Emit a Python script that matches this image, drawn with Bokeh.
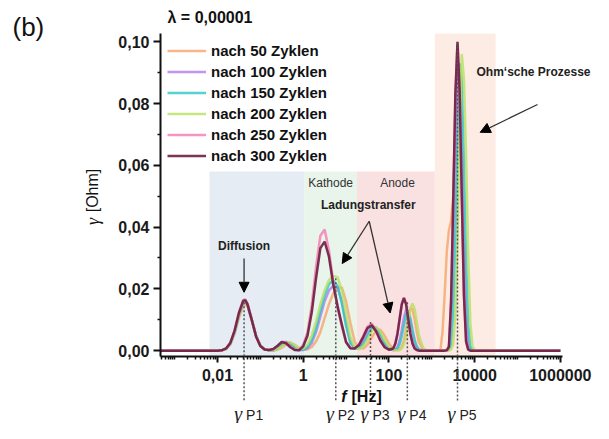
import math
from bokeh.plotting import figure
from bokeh.models import (FixedTicker, BoxAnnotation, Label, Arrow, NormalHead,
                          Legend, LegendItem, GridBox, Column, Range1d)
from bokeh.embed import file_html
from bokeh.resources import INLINE

# ---------------- data ----------------
# shared frequency grid, as log10(f / Hz)
log_f = [-3.33, -2.0, -1.9, -1.8, -1.7, -1.6, -1.5, -1.4, -1.35, -1.3,
         -1.2, -1.1, -1.0, -0.9, -0.8, -0.7, -0.6, -0.5, -0.4, -0.3,
         -0.2, -0.1, 0.0, 0.1, 0.2, 0.3, 0.4, 0.5, 0.6, 0.7,
         0.8, 0.9, 1.0, 1.1, 1.2, 1.3, 1.4, 1.5, 1.6, 1.7,
         1.8, 1.9, 2.0, 2.1, 2.15, 2.2, 2.25, 2.3, 2.35, 2.4,
         2.45, 2.5, 2.55, 2.6, 2.65, 2.7, 2.8, 2.9, 3.0, 3.1,
         3.2, 3.25, 3.3, 3.35, 3.4, 3.45, 3.5, 3.55, 3.6, 3.65,
         3.7, 3.75, 3.8, 3.85, 3.9, 3.95, 4.0, 6.0]

gamma_50 = [0, 0, 0.0001, 0.0005, 0.0020, 0.0055, 0.0106, 0.0145, 0.0150, 0.0143,
            0.0098, 0.0047, 0.0016, 0.0004, 0.0001, 0, 0.0003, 0.0009, 0.0019, 0.0025,
            0.0019, 0.0009, 0.0004, 0.0004, 0.0012, 0.0030, 0.0060, 0.0105, 0.0150, 0.0185,
            0.0203, 0.0205, 0.0160, 0.0090, 0.0030, 0.0008, 0.0007, 0.0019, 0.0042, 0.0065,
            0.0068, 0.0048, 0.0023, 0.0007, 0.0004, 0.0003, 0.0005, 0.0012, 0.0033, 0.0068,
            0.0110, 0.0137, 0.0134, 0.0102, 0.0060, 0.0028, 0.0003, 0, 0, 0,
            0, 0.006, 0.018, 0.032, 0.039, 0.042, 0.050, 0.070, 0.088, 0.090,
            0.065, 0.030, 0.008, 0.001, 0, 0, 0, 0]

gamma_100 = [0, 0, 0.0001, 0.0006, 0.0023, 0.0060, 0.0115, 0.0155, 0.0158, 0.0149,
             0.0100, 0.0047, 0.0016, 0.0004, 0.0001, 0.0001, 0.0007, 0.0019, 0.0027, 0.0019,
             0.0007, 0.0001, 0.0002, 0.0008, 0.0025, 0.0060, 0.0110, 0.0160, 0.0195, 0.0210,
             0.0205, 0.0160, 0.0090, 0.0030, 0.0009, 0.0010, 0.0028, 0.0056, 0.0077, 0.0071,
             0.0044, 0.0019, 0.0005, 0.0002, 0.0004, 0.0012, 0.0032, 0.0066, 0.0106, 0.0132,
             0.0129, 0.0098, 0.0058, 0.0027, 0.0010, 0.0003, 0, 0, 0, 0,
             0, 0, 0, 0.0002, 0.0015, 0.0087, 0.030, 0.062, 0.090, 0.093,
             0.068, 0.036, 0.0116, 0.0019, 0.0002, 0, 0, 0]

gamma_150 = [0, 0, 0.0001, 0.0006, 0.0023, 0.0060, 0.0115, 0.0155, 0.0158, 0.0149,
             0.0100, 0.0047, 0.0016, 0.0004, 0.0001, 0.0001, 0.0007, 0.0018, 0.0028, 0.0023,
             0.0011, 0.0003, 0.0003, 0.0012, 0.0035, 0.0075, 0.0130, 0.0180, 0.0215, 0.0227,
             0.0210, 0.0155, 0.0080, 0.0025, 0.0006, 0.0007, 0.0021, 0.0047, 0.0072, 0.0075,
             0.0053, 0.0025, 0.0008, 0.0002, 0.0002, 0.0007, 0.0021, 0.0047, 0.0083, 0.0115,
             0.0124, 0.0104, 0.0068, 0.0035, 0.0014, 0.0004, 0, 0, 0, 0,
             0, 0, 0, 0, 0.0003, 0.0019, 0.0115, 0.036, 0.067, 0.093,
             0.088, 0.061, 0.030, 0.0086, 0.0014, 0.0002, 0, 0]

gamma_200 = [0, 0, 0.0001, 0.0006, 0.0023, 0.0061, 0.0117, 0.0157, 0.0160, 0.0151,
             0.0101, 0.0048, 0.0016, 0.0004, 0.0001, 0.0001, 0.0004, 0.0013, 0.0025, 0.0027,
             0.0018, 0.0007, 0.0007, 0.0020, 0.0050, 0.0095, 0.0150, 0.0195, 0.0228, 0.0242,
             0.0238, 0.0195, 0.0120, 0.0045, 0.0011, 0.0005, 0.0013, 0.0035, 0.0063, 0.0076,
             0.0063, 0.0035, 0.0013, 0.0003, 0.0001, 0, 0.0002, 0.0007, 0.0021, 0.0050,
             0.0093, 0.0135, 0.0153, 0.0135, 0.0093, 0.0050, 0.0007, 0, 0, 0,
             0, 0, 0, 0, 0, 0.0003, 0.0020, 0.0118, 0.0365, 0.069,
             0.096, 0.088, 0.063, 0.031, 0.0089, 0.0015, 0.0002, 0]

gamma_250 = [0, 0, 0.0001, 0.0007, 0.0026, 0.0066, 0.0124, 0.0164, 0.0166, 0.0153,
             0.0101, 0.0047, 0.0015, 0.0004, 0.0002, 0.0004, 0.0014, 0.0028, 0.0028, 0.0014,
             0.0004, 0.0002, 0.0018, 0.0060, 0.0148, 0.0272, 0.0372, 0.0392, 0.0325, 0.0225,
             0.0140, 0.0078, 0.0026, 0.0008, 0.0007, 0.0020, 0.0047, 0.0078, 0.0087, 0.0066,
             0.0034, 0.0012, 0.0003, 0.0007, 0.0023, 0.0056, 0.0104, 0.0152, 0.0172, 0.0152,
             0.0104, 0.0056, 0.0023, 0.0007, 0.0002, 0, 0, 0, 0, 0,
             0, 0, 0, 0.0001, 0.0012, 0.016, 0.048, 0.082, 0.099, 0.084,
             0.050, 0.018, 0.003, 0.0003, 0, 0, 0, 0]

gamma_300 = [0, 0, 0.0001, 0.0007, 0.0025, 0.0065, 0.0122, 0.0161, 0.0163, 0.0150,
             0.0099, 0.0046, 0.0015, 0.0004, 0.0002, 0.0005, 0.0016, 0.0028, 0.0024, 0.0011,
             0.0002, 0.0001, 0.0014, 0.0048, 0.0125, 0.0235, 0.0332, 0.0353, 0.0305, 0.0215,
             0.0145, 0.0085, 0.0028, 0.0008, 0.0007, 0.0018, 0.0044, 0.0073, 0.0082, 0.0063,
             0.0032, 0.0011, 0.0003, 0.0007, 0.0023, 0.0055, 0.0103, 0.0150, 0.0170, 0.0150,
             0.0103, 0.0055, 0.0023, 0.0007, 0.0002, 0, 0, 0, 0, 0,
             0, 0, 0, 0.0001, 0.0012, 0.016, 0.048, 0.083, 0.100, 0.084,
             0.050, 0.018, 0.003, 0.0003, 0, 0, 0, 0]

series_labels = ["nach 50 Zyklen", "nach 100 Zyklen", "nach 150 Zyklen",
                 "nach 200 Zyklen", "nach 250 Zyklen", "nach 300 Zyklen"]
series_values = [gamma_50, gamma_100, gamma_150, gamma_200, gamma_250, gamma_300]
series_colors = ["#F5A56A", "#B27AEE", "#2CC7C4", "#B8E062", "#F27BB0", "#6E1D42"]

# characteristic peaks gamma_P1..P5 (log10 f) and the height of their marker lines
peak_names = ["P1", "P2", "P3", "P4", "P5"]
peak_log_f = [-1.38, 0.76, 1.57, 2.43, 3.60]
peak_top = [0.0157, 0.0234, 0.0093, 0.0157, 0.0998]

# process regions (Hz) and their upper edge (Ohm); None = to the top
region_names = ["Diffusion", "Kathode", "Anode", "Ohm"]
region_left = [0.0065, 1.055, 18.0, 1175.0]
region_right = [1.055, 18.0, 1175.0, 30800.0]
region_top = [0.058, 0.058, 0.058, None]
region_colors = ["#E5ECF3", "#E9F4EA", "#F9E0E1", "#FDECE3"]

x_ticks = [0.01, 1, 100, 10000, 1000000]
x_tick_labels = ["0,01", "1", "100", "10000", "1000000"]
y_ticks = [0.0, 0.02, 0.04, 0.06, 0.08, 0.10]
y_tick_labels = ["0,00", "0,02", "0,04", "0,06", "0,08", "0,10"]

# ---------------- layout constants ----------------
FONT = "Liberation Sans"
W, H = 593, 423
BL, BR, BT, BB = 160, 31, 33, 67          # borders around the plot frame
LX0, LX1 = -3.33, 6.05                     # log10 range of the frame
Y0, Y1 = -0.0019, 0.1027                   # y range of the frame
ppd = (W - BL - BR) / (LX1 - LX0)          # pixels per decade
ppu = (H - BT - BB) / (Y1 - Y0)            # pixels per Ohm

def xs(px):   # canvas pixel column -> frequency (for placing annotations)
    return 10 ** (LX0 + (px - BL) / ppd)

def ys(py):   # canvas pixel row -> gamma value (for placing annotations)
    return Y1 - (py - BT) / ppu

freq = [10 ** v for v in log_f]

# ---------------- main figure ----------------
p = figure(width=W, height=H, x_axis_type="log",
           x_range=Range1d(10 ** LX0, 10 ** LX1), y_range=Range1d(Y0, Y1),
           output_backend="svg", toolbar_location=None,
           min_border_left=BL, min_border_right=BR,
           min_border_top=BT, min_border_bottom=BB)
p.outline_line_color = None
p.xgrid.visible = False
p.ygrid.visible = False
p.background_fill_color = "white"
p.border_fill_color = "white"

for l, r, t, c in zip(region_left, region_right, region_top, region_colors):
    kw = dict(left=l, right=r, fill_color=c, fill_alpha=1.0, line_color=None, level="underlay")
    if t is not None:
        kw["top"] = t
    p.add_layout(BoxAnnotation(**kw))

items = []
for lab, vals, col in zip(series_labels, series_values, series_colors):
    alpha = 0.9 if lab.endswith("300 Zyklen") else 0.8
    r = p.line(freq, vals, line_color=col, line_width=2.5, line_alpha=alpha)
    items.append(LegendItem(label=lab, renderers=[r]))

legend = Legend(items=items, location="top_left", margin=7, padding=0,
                spacing=0, glyph_width=39, glyph_height=21, label_height=21,
                label_standoff=5, label_text_font=FONT, label_text_font_style="bold",
                label_text_font_size="15px", label_text_color="#111111",
                background_fill_alpha=0, border_line_color=None)
p.add_layout(legend)

ax = p.xaxis[0]
ax.ticker = FixedTicker(ticks=x_ticks,
                        minor_ticks=[k * 10 ** d for d in range(-4, 7) for k in range(2, 10)]
                        + [10 ** d for d in (-3, -1, 1, 3, 5)])
ax.major_label_overrides = {t: s for t, s in zip(x_ticks, x_tick_labels)}
ay = p.yaxis[0]
ay.ticker = FixedTicker(ticks=y_ticks, minor_ticks=[0.01, 0.03, 0.05, 0.07, 0.09])
ay.major_label_overrides = {t: s for t, s in zip(y_ticks, y_tick_labels)}
for a, tout, soff in ((ax, 6, 6), (ay, 7, 4)):
    a.axis_line_width = 2
    a.axis_line_color = "#111111"
    a.major_tick_line_width = 2
    a.major_tick_line_color = "#111111"
    a.minor_tick_line_color = "#111111"
    a.minor_tick_line_width = 1.5
    a.major_tick_out = tout
    a.major_tick_in = 0
    a.minor_tick_out = 3
    a.minor_tick_in = 0
    a.major_label_text_font = FONT
    a.major_label_text_font_style = "bold"
    a.major_label_text_font_size = "16px"
    a.major_label_text_color = "#1a1a1a"
    a.major_label_standoff = soff

def label(fig, x, y, s, size="12px", style="bold", align="center", color="#222222",
          font=FONT, angle=0.0, baseline="middle", x_offset=0):
    fig.add_layout(Label(x=x, y=y, text=s, text_font=font, text_font_style=style,
                         text_font_size=size, text_align=align, text_baseline=baseline,
                         text_color=color, angle=angle, x_offset=x_offset))

label(p, 10 ** -1.38, 0.0339, "Diffusion")
label(p, 10 ** 1.52, 0.0470, "Ladungstransfer")
label(p, 10 ** 0.64, 0.0544, "Kathode", style="normal", color="#333333")
label(p, 10 ** 2.20, 0.0544, "Anode", style="normal", color="#333333")

# ---------------- transparent overlay with the same scales, covering the whole canvas ----------------
ov = figure(width=W, height=H, x_axis_type="log",
            x_range=Range1d(xs(0), xs(W)), y_range=Range1d(ys(H), ys(0)),
            output_backend="svg", toolbar_location=None,
            x_axis_location=None, y_axis_location=None, min_border=0)
ov.outline_line_color = None
ov.background_fill_alpha = 0
ov.border_fill_alpha = 0
ov.grid.visible = False

# dotted marker lines from the peaks down to the gamma_P labels
peak_freq = [10 ** v for v in peak_log_f]
ov.segment(x0=peak_freq, y0=peak_top, x1=peak_freq, y1=[ys(401)] * len(peak_freq),
           line_color="#555555", line_width=1.5, line_dash="2 2")

for name, fq in zip(peak_names, peak_freq):
    label(ov, fq, ys(413), "γ", size="20px", style="italic", align="right",
          font="Liberation Serif", baseline="alphabetic", color="#222222", x_offset=-2)
    label(ov, fq, ys(414), name, size="14px", style="normal", align="left",
          baseline="alphabetic", color="#222222", x_offset=2)

def arrow(x0, y0, x1, y1):
    ov.add_layout(Arrow(end=NormalHead(size=10, fill_color="black", line_color="black"),
                        x_start=x0, y_start=y0, x_end=x1, y_end=y1,
                        line_color="#333333", line_width=1.3))

arrow(10 ** -1.38, 0.0298, 10 ** -1.38, 0.0189)
arrow(10 ** 1.54, 0.0419, 10 ** 0.91, 0.0282)
arrow(10 ** 1.54, 0.0419, 10 ** 2.03, 0.0122)
arrow(xs(537), ys(104), 10 ** 4.13, 0.0707)

label(ov, xs(533), ys(71), "Ohm‘sche Prozesse")
label(ov, xs(167), ys(17), "λ = 0,00001", size="16px", align="left", color="#111111")
label(ov, xs(12), ys(26), "(b)", size="26px", style="normal", align="left", color="#111111")
# axis titles
label(ov, xs(346), ys(396), "f", size="16px", style="bold italic", align="right", color="#111111")
label(ov, xs(351), ys(396), "[Hz]", size="16px", style="bold", align="left", color="#111111")
label(ov, xs(92), ys(221), "γ", size="18px", style="italic", color="#111111",
      font="Liberation Serif", angle=math.pi / 2)
label(ov, xs(92), ys(190), "[Ohm]", size="16px", style="normal", color="#111111",
      angle=math.pi / 2)

# the overlay is wrapped in its own column so that its frame is not aligned with the main one
page = GridBox(children=[(p, 0, 0), (Column(children=[ov]), 0, 0)])
open("out.html", "w").write(file_html(page, INLINE))
